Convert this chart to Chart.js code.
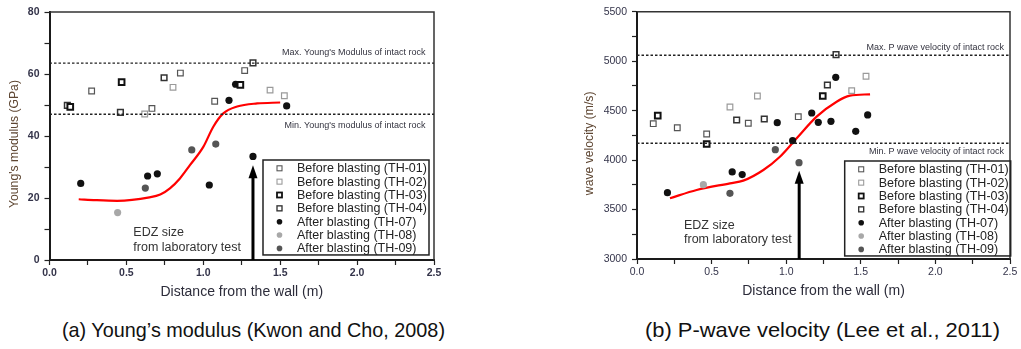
<!DOCTYPE html>
<html>
<head>
<meta charset="utf-8">
<script src="https://cdn.jsdelivr.net/npm/chart.js@4.4.1/dist/chart.umd.min.js"></script>
<style>
  body { margin: 0; background: #fff; width: 1021px; height: 349px; overflow: hidden; position: relative; }
  .wrap { position: absolute; top: 0; height: 310px; }
  #wrapA { left: 0; width: 470px; }
  #wrapB { left: 560px; width: 461px; }
  .cap { position: absolute; top: 318px; white-space: nowrap; transform-origin: 0 0;
         font-family: "Liberation Sans Narrow", "Liberation Sans", Arial, sans-serif; font-size: 21px; color: #111; }
</style>
</head>
<body>
<div class="wrap" id="wrapA"><canvas id="chartA"></canvas></div>
<div class="wrap" id="wrapB"><canvas id="chartB"></canvas></div>
<div class="cap" id="capA" data-w="383" style="left:62px">(a) Young’s modulus (Kwon and Cho, 2008)</div>
<div class="cap" id="capB" data-w="355" style="left:645px">(b) P-wave velocity (Lee et al., 2011)</div>

<script>
// ---- data ----
const legendLabels = ["Before blasting (TH-01)", "Before blasting (TH-02)", "Before blasting (TH-03)", "Before blasting (TH-04)",
                      "After blasting (TH-07)", "After blasting (TH-08)", "After blasting (TH-09)"];

// (a) Young's modulus, GPa
const ymTH01 = [[0.274, 54.5], [0.666, 48.9], [0.851, 60.3], [1.074, 51.2], [1.269, 61.1]];
const ymTH02 = [[0.619, 47.1], [0.803, 55.7], [1.434, 54.8], [1.527, 53.0]];
const ymTH03 = [[0.135, 49.4], [0.469, 57.4], [1.241, 56.5]];
const ymTH04 = [[0.116, 49.9], [0.461, 47.6], [0.745, 58.8], [1.323, 63.6]];
const ymTH07 = [[0.203, 24.7], [0.638, 27.1], [0.701, 27.8], [1.039, 24.2], [1.167, 51.5], [1.21, 56.7], [1.323, 33.4], [1.542, 49.7]];
const ymTH08 = [[0.443, 15.3]];
const ymTH09 = [[0.623, 23.2], [0.925, 35.5], [1.081, 37.4]];
const ymFitX = [0.19, 0.3, 0.44, 0.65, 0.72, 0.783, 0.848, 0.913, 1.0, 1.065, 1.13, 1.22, 1.35, 1.5];
const ymFitY = [19.6, 19.3, 19.1, 20.2, 21.1, 23.1, 26.3, 30.6, 36.5, 43.0, 47.3, 49.5, 50.5, 50.8];
const ymIntact = [63.5, 47.0];           // max, min of intact rock
const ymIntactText = ["Max. Young's Modulus of intact rock", "Min. Young's modulus of intact rock"];
const ymEdz = [1.323, 0, 30.6];          // x, arrow foot, arrow tip
const ymEdzText = [0.545, 8.7, 3.9];     // x, line 1 y, line 2 y

// (b) P-wave velocity, m/s
const vpTH01 = [[0.109, 4368], [0.27, 4327], [0.467, 4264], [0.746, 4372], [1.081, 4439]];
const vpTH02 = [[0.623, 4537], [0.807, 4648], [1.439, 4702], [1.535, 4847]];
const vpTH03 = [[0.139, 4449], [0.467, 4163], [1.245, 4648]];
const vpTH04 = [[0.668, 4405], [0.853, 4415], [1.276, 4759], [1.334, 5066]];
const vpTH07 = [[0.204, 3670], [0.638, 3880], [0.705, 3853], [0.94, 4378], [1.043, 4196], [1.171, 4476], [1.215, 4382], [1.3, 4392], [1.332, 4837], [1.466, 4291], [1.546, 4456]];
const vpTH08 = [[0.445, 3751]];
const vpTH09 = [[0.623, 3664], [0.927, 4105], [1.086, 3974]];
const vpFitX = [0.221, 0.4, 0.623, 0.712, 0.847, 0.958, 1.07, 1.204, 1.338, 1.427, 1.562];
const vpFitY = [3614, 3698, 3765, 3792, 3900, 4034, 4220, 4439, 4590, 4651, 4665];
const vpIntact = [5060, 4170];
const vpIntactText = ["Max. P wave velocity of intact rock", "Min. P wave velocity of intact rock"];
const vpEdz = [1.087, 3000, 3893];
const vpEdzText = [0.315, 3334, 3192];

const xTitle = "Distance from the wall (m)";

// ---- styles ----
const seriesStyle = [
  { pointStyle: "rect", pointRadius: 4.0, borderColor: "#555", borderWidth: 1.2, backgroundColor: "#fff" },
  { pointStyle: "rect", pointRadius: 4.0, borderColor: "#9a9a9a", borderWidth: 1.2, backgroundColor: "#fff" },
  { pointStyle: "rect", pointRadius: 4.0, borderColor: "#111", borderWidth: 2, backgroundColor: "#fff" },
  { pointStyle: "rect", pointRadius: 4.0, borderColor: "#333", borderWidth: 1.5, backgroundColor: "#fff" },
  { pointStyle: "circle", pointRadius: 3.6, borderColor: "#111", borderWidth: 0, backgroundColor: "#111" },
  { pointStyle: "circle", pointRadius: 3.6, borderColor: "#a8a8a8", borderWidth: 0, backgroundColor: "#a8a8a8" },
  { pointStyle: "circle", pointRadius: 3.6, borderColor: "#555", borderWidth: 0, backgroundColor: "#555" }
];

function toPts(arr) { return arr.map(p => ({ x: p[0], y: p[1] })); }

function buildDatasets(series, fitX, fitY) {
  const ds = series.map((s, i) => Object.assign({ label: legendLabels[i], data: toPts(s), pointHoverRadius: 4 }, seriesStyle[i]));
  ds.push({
    label: "fit", data: fitX.map((x, i) => ({ x: x, y: fitY[i] })), showLine: true, pointRadius: 0,
    borderColor: "#ff0000", borderWidth: 2.2, cubicInterpolationMode: "monotone", fill: false, isFit: true
  });
  return ds;
}

// draws the frame, intact-rock lines, arrow, notes, legend and axis titles
const extras = {
  id: "extras",
  afterDatasetsDraw(chart, args, o) {
    const ctx = chart.ctx, a = chart.chartArea;
    const xs = chart.scales.x, ys = chart.scales.y;
    ctx.save();

    // top and right frame
    ctx.strokeStyle = "#333"; ctx.lineWidth = 1.5;
    ctx.beginPath();
    ctx.moveTo(a.left, a.top); ctx.lineTo(a.right, a.top); ctx.lineTo(a.right, a.bottom);
    ctx.stroke();

    // intact rock lines
    ctx.setLineDash([2.5, 2]); ctx.strokeStyle = "#222"; ctx.lineWidth = 1.4;
    o.intact.forEach(v => {
      const py = ys.getPixelForValue(v);
      ctx.beginPath(); ctx.moveTo(a.left, py); ctx.lineTo(a.right, py); ctx.stroke();
    });
    ctx.setLineDash([]);
    ctx.font = "9px 'Liberation Sans', Arial, sans-serif"; ctx.fillStyle = "#33333f";
    ctx.textAlign = "right"; ctx.textBaseline = "middle";
    ctx.fillText(o.intactText[0], a.right - o.textInset, ys.getPixelForValue(o.intact[0]) - o.textGap);
    ctx.fillText(o.intactText[1], a.right - o.textInset, ys.getPixelForValue(o.intact[1]) + o.textGap);

    // EDZ arrow
    const ax = xs.getPixelForValue(o.edz[0]);
    const ay0 = ys.getPixelForValue(o.edz[1]), ay1 = ys.getPixelForValue(o.edz[2]);
    ctx.strokeStyle = "#000"; ctx.fillStyle = "#000"; ctx.lineWidth = 3;
    ctx.beginPath(); ctx.moveTo(ax, ay0); ctx.lineTo(ax, ay1 + 10); ctx.stroke();
    ctx.beginPath(); ctx.moveTo(ax, ay1); ctx.lineTo(ax - 4.5, ay1 + 13); ctx.lineTo(ax + 4.5, ay1 + 13); ctx.closePath(); ctx.fill();

    // EDZ note
    ctx.font = "12.5px 'Liberation Sans', Arial, sans-serif"; ctx.fillStyle = "#333";
    ctx.textAlign = "left";
    const tx = xs.getPixelForValue(o.edzText[0]);
    ctx.fillText("EDZ size", tx, ys.getPixelForValue(o.edzText[1]));
    ctx.fillText("from laboratory test", tx, ys.getPixelForValue(o.edzText[2]));

    // legend
    const items = chart.data.datasets.filter(d => !d.isFit);
    const lr = a.right - o.legendInset, lt = a.top + o.legendTop;
    const lw = 166, rowH = 13.35, lh = rowH * items.length + 1.5;
    ctx.strokeStyle = "#222"; ctx.lineWidth = 1.5;
    ctx.strokeRect(lr - lw, lt, lw, lh);
    ctx.font = "12.5px 'Liberation Sans', Arial, sans-serif";
    items.forEach((d, i) => {
      const cy = lt + 8.3 + i * rowH, mx = lr - lw + 16.5;
      ctx.lineWidth = Math.max(1, d.borderWidth * 0.9); ctx.strokeStyle = d.borderColor; ctx.fillStyle = d.backgroundColor;
      if (d.pointStyle === "rect") {
        ctx.fillRect(mx - 2.5, cy - 2.5, 5, 5); ctx.strokeRect(mx - 2.5, cy - 2.5, 5, 5);
      } else {
        ctx.beginPath(); ctx.arc(mx, cy, 2.8, 0, Math.PI * 2); ctx.fill();
      }
      ctx.fillStyle = "#222";
      ctx.fillText(d.label, lr - lw + 34, cy + 0.5);
    });

    // axis titles
    ctx.fillStyle = "#2c2c3a"; ctx.textAlign = "center";
    ctx.font = "14px 'Liberation Sans', Arial, sans-serif";
    ctx.fillText(xTitle, (a.left + a.right) / 2, a.bottom + 32);
    ctx.save();
    ctx.translate(a.left - o.yTitleGap, (a.top + a.bottom) / 2 + 8);
    ctx.rotate(-Math.PI / 2);
    ctx.fillStyle = "#5e4632";
    ctx.font = "12.2px 'Liberation Sans', Arial, sans-serif";
    ctx.fillText(o.yTitle, 0, 0);
    ctx.restore();

    ctx.restore();
  }
};

function makeChart(id, cfg) {
  const isMajorX = v => Math.abs(v * 2 - Math.round(v * 2)) < 1e-6;
  return new Chart(document.getElementById(id), {
    type: "scatter",
    data: { datasets: cfg.datasets },
    plugins: [extras],
    options: {
      responsive: true, maintainAspectRatio: false, animation: false,
      layout: { padding: { left: 0, top: cfg.padTop, right: cfg.padRight, bottom: 0 } },
      plugins: {
        legend: { display: false }, tooltip: { enabled: false },
        extras: cfg.extras
      },
      scales: {
        x: {
          type: "linear", min: 0, max: 2.5,
          afterFit: s => { s.height = cfg.xAxisH; },
          border: { display: true, color: "#1a1a1a", width: 2 },
          grid: { drawOnChartArea: false, tickLength: 5, tickColor: "#222", tickWidth: 1.2 },
          ticks: {
            stepSize: 0.25, padding: 2, color: "#34344a", maxRotation: 0, autoSkip: false,
            font: { size: 10.5, weight: cfg.tickBold ? "bold" : "normal", family: "'Liberation Sans', Arial, sans-serif" },
            callback: v => isMajorX(v) ? v.toFixed(1) : ""
          }
        },
        y: {
          type: "linear", min: cfg.yMin, max: cfg.yMax,
          afterFit: s => { s.width = cfg.yAxisW; },
          border: { display: true, color: "#1a1a1a", width: 2 },
          grid: { drawOnChartArea: false, tickLength: 5, tickColor: "#222", tickWidth: 1.2 },
          ticks: {
            stepSize: cfg.yStep, padding: 5, color: "#34344a", autoSkip: false,
            font: { size: 10.5, weight: cfg.tickBold ? "bold" : "normal", family: "'Liberation Sans', Arial, sans-serif" },
            callback: v => (v % cfg.yLabelEvery === 0) ? String(v) : ""
          }
        }
      }
    }
  });
}

makeChart("chartA", {
  datasets: buildDatasets([ymTH01, ymTH02, ymTH03, ymTH04, ymTH07, ymTH08, ymTH09], ymFitX, ymFitY),
  yMin: 0, yMax: 80, yStep: 10, yLabelEvery: 20, tickBold: true,
  padTop: 12, padRight: 36, xAxisH: 50, yAxisW: 49.5,
  extras: { intact: ymIntact, intactText: ymIntactText, edz: ymEdz, edzText: ymEdzText,
            textInset: 8.5, textGap: 11, legendInset: 5, legendTop: 148, yTitle: "Young's modulus (GPa)", yTitleGap: 34.5 }
});

makeChart("chartB", {
  datasets: buildDatasets([vpTH01, vpTH02, vpTH03, vpTH04, vpTH07, vpTH08, vpTH09], vpFitX, vpFitY),
  yMin: 3000, yMax: 5500, yStep: 250, yLabelEvery: 500, tickBold: false,
  padTop: 11.7, padRight: 11, xAxisH: 51, yAxisW: 77,
  extras: { intact: vpIntact, intactText: vpIntactText, edz: vpEdz, edzText: vpEdzText,
            textInset: 6, textGap: 8, legendInset: -0.7, legendTop: 149.3, yTitle: "wave velocity (m/s)", yTitleGap: 47 }
});

// squeeze captions to the reference width
document.querySelectorAll(".cap").forEach(el => {
  const w = el.getBoundingClientRect().width;
  el.style.transform = "scaleX(" + (Number(el.dataset.w) / w) + ")";
});
</script>
</body>
</html>
